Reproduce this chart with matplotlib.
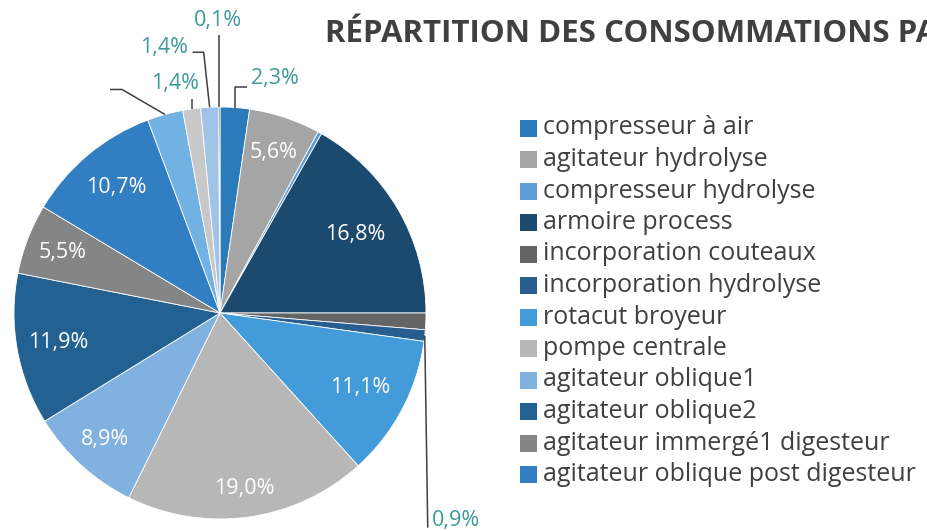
import matplotlib
matplotlib.use("Agg")
import matplotlib.pyplot as plt
from matplotlib.patches import Rectangle
import numpy as np

# ---------------- data ----------------
categories = [
    "compresseur à air",
    "agitateur hydrolyse",
    "compresseur hydrolyse",
    "armoire process",
    "incorporation couteaux",
    "incorporation hydrolyse",
    "rotacut broyeur",
    "pompe centrale",
    "agitateur oblique1",
    "agitateur oblique2",
    "agitateur immergé1 digesteur",
    "agitateur oblique post digesteur",
    "agitateur immergé2 digesteur",
    "pompe digesteur",
    "pompe post digesteur",
    "divers",
]
values = [2.3, 5.6, 0.3, 16.8, 1.3, 0.9, 11.1, 19.0, 8.9, 11.9, 5.5, 10.7,
          2.8, 1.4, 1.4, 0.1]
colors = ["#2B7BBA", "#A5A5A5", "#5E9DD6", "#1C4A6E", "#646464", "#275D8F",
          "#449BD9", "#B7B7B7", "#80B1DF", "#226191", "#858585", "#327EC3",
          "#72B2E3", "#C8C8C8", "#9FC4E8", "#3A3A3A"]
legend_count = 12
title = "RÉPARTITION DES CONSOMMATIONS PAR ÉQUIPEMENT"

# label style: 'in' = white inside, 'out' = teal outside with leader, None = none
label_mode = ["out", "in", None, "in", None, "out", "in", "in", "in", "in",
              "in", "in", "lead", "out", "out", "out"]

# ---------------- layout ----------------
W, H = 927, 531
FONT = "Open Sans"
TEAL = "#3D9A9A"
DARK = "#404040"
LBL = 15.5

def Y(y):
    return H - y

fig = plt.figure(figsize=(W / 100, H / 100), dpi=100)
ax = fig.add_axes([0, 0, 1, 1])
ax.set_xlim(0, W)
ax.set_ylim(0, H)
ax.set_aspect("equal")
ax.axis("off")

cx, cy, R = 220, Y(313), 206
wedges, _ = ax.pie(values, colors=colors, startangle=90, counterclock=False,
                   center=(cx, cy), radius=R,
                   wedgeprops=dict(edgecolor="white", linewidth=0.6))
ax.set_xlim(0, W)
ax.set_ylim(0, H)

def fmt(v):
    return f"{v:.1f}".replace(".", ",") + "%"

def mid_point(w, frac):
    a = np.deg2rad((w.theta1 + w.theta2) / 2)
    return cx + frac * R * np.cos(a), cy + frac * R * np.sin(a)

# inside labels
in_dist = {1: 0.82, 3: 0.76, 6: 0.77, 7: 0.86, 8: 0.83, 9: 0.80, 10: 0.82, 11: 0.79}
for i, m in enumerate(label_mode):
    if m == "in":
        x, y = mid_point(wedges[i], in_dist.get(i, 0.8))
        ax.text(x, y, fmt(values[i]), color="white", fontsize=LBL, family=FONT,
                ha="center", va="center")

# outside labels with leader lines: (polyline offsets in px from edge, text pos offset, ha)
lead_cfg = {
    0: ([(0, 0), (0, 21), (12, 21)], (16, 29), "left"),
    5: ([(0, 0), (3, -192)], (7, -185), "left"),
    12: ([(0, 0), (-43, 25), (-55, 25)], None, None),
    13: ([(0, 0), (0, 10)], (-17, 25), "center"),
    14: ([(0, 0), (-6, 55), (-17, 55)], (-22, 60), "right"),
    15: ([(0, 0), (0, 72)], (-1, 87), "center"),
}
for i, (pts, tpos, ha) in lead_cfg.items():
    ex, ey = mid_point(wedges[i], 1.0)
    xs = [ex + p[0] for p in pts]
    ys = [ey + p[1] for p in pts]
    ax.plot(xs, ys, color=DARK, lw=1.1, solid_capstyle="butt", zorder=3)
    if tpos is not None:
        ax.text(ex + tpos[0], ey + tpos[1], fmt(values[i]), color=TEAL,
                fontsize=LBL, family=FONT, ha=ha, va="center")

# title
ax.text(325, Y(32), title, color=DARK, fontsize=22.5, fontweight="bold",
        family=FONT, ha="left", va="center")

# legend
row0, step, sq = 128, 31.5, 17
for i in range(legend_count):
    yc = Y(row0 + i * step)
    ax.add_patch(Rectangle((520, yc - sq / 2), sq, sq, facecolor=colors[i],
                           edgecolor="none"))
    ax.text(543, yc, categories[i], color=DARK, fontsize=18, family=FONT,
            ha="left", va="center")

fig.savefig("out.png", dpi=100)
